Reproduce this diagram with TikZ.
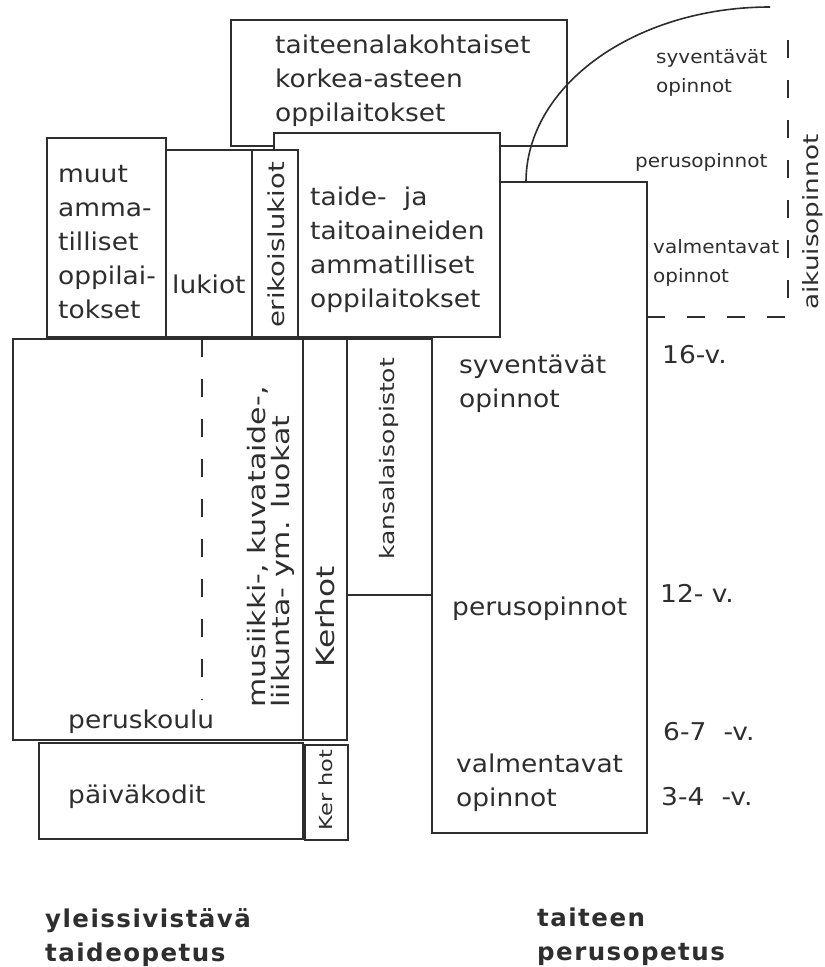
\documentclass[tikz,border=0pt]{standalone}
\usepackage{fontspec}
\newfontfamily\mainf{DejaVu Sans}[FakeStretch=1.08]
\newfontfamily\rotf{DejaVu Sans}[FakeStretch=1.25]
\newfontfamily\capf{DejaVu Sans}[LetterSpace=6]
\definecolor{ink}{gray}{0.18}
\begin{document}
\begin{tikzpicture}[x=1pt,y=-1pt,
  box/.style={draw=ink, line width=1.8pt, fill=white},
  heavybox/.style={box, line width=2.6pt},
  % multi-line labels are placed by the baseline of their last line
  lbl/.style={inner sep=0pt, anchor=base west, align=left, text=ink,
    font=\mainf\fontsize{24.5}{34}\selectfont},
  smalllbl/.style={lbl, font=\mainf\fontsize{18.5}{29}\selectfont},
  vert/.style={inner sep=0pt, rotate=90, text=ink},
  dashline/.style={draw=ink, line width=1.8pt, dash pattern=on 18pt off 22pt},
  caption/.style={lbl, font=\capf\bfseries\fontsize{24.5}{34}\selectfont}]

% page
\fill[white] (0,0) rectangle (825,967);
\useasboundingbox (0,0) rectangle (825,967);

% taiteen perusopetus column (behind the vocational box)
\draw[box] (432,182) rectangle (647,833);
% higher education box
\draw[box] (231,20) rectangle (567,146);
% adult studies arc
\coordinate (arcstart) at (526,182);
\draw[ink, line width=1.6pt] (arcstart) arc[start angle=180, end angle=270, x radius=244, y radius=175];

% upper secondary row
\draw[box] (274,133) rectangle (500,337);
\draw[heavybox] (47,138) rectangle (166,337);
\draw[box] (166,150) rectangle (252,337);
\draw[box] (252,150) rectangle (298,337);

% basic education row
\draw[box] (13,339) rectangle (303,740);
\draw[dashline] (202,339) -- (202,700);
\draw[box] (303,339) rectangle (347,740);
\draw[box] (347,339) rectangle (432,595);

% day care row
\draw[box] (39,743) rectangle (303,839);
\draw[box] (305,745) rectangle (348,840);

% adult studies bracket
\draw[dashline] (647,317) -- (788,317) -- (788,25);

% labels
\node[lbl] (korkea) at (275,121) {taiteenalakohtaiset\\korkea-asteen\\oppilaitokset};
\node[lbl] (muut) at (58,318) {muut\\amma-\\tilliset\\oppilai-\\tokset};
\node[lbl] (lukiot) at (172,293) {lukiot};
\node[vert, font=\rotf\fontsize{22}{24}\selectfont] (erikois) at (276,245) {erikoislukiot};
\node[lbl] (taide) at (310,307) {taide-\hspace{0.7em}ja\\taitoaineiden\\ammatilliset\\oppilaitokset};

\node[smalllbl] (syvA) at (656,92) {syventävät\\opinnot};
\node[smalllbl] (perusA) at (635,167) {perusopinnot};
\node[smalllbl] (valmA) at (653,282) {valmentavat\\opinnot};
\node[vert, font=\rotf\fontsize{21}{24}\selectfont] (aikuis) at (813,222) {aikuisopinnot};

\node[lbl] (syv) at (459,407) {syventävät\\opinnot};
\node[lbl] (perus) at (452,615) {perusopinnot};
\node[lbl] (valm) at (456,806) {valmentavat\\opinnot};

\node[lbl] (age16) at (662,363) {16-v.};
\node[lbl] (age12) at (660,602) {12- v.};
\node[lbl] (age6) at (663,740) {6-7\hspace{0.7em}-v.};
\node[lbl] (age3) at (661,805) {3-4\hspace{0.7em}-v.};

\node[vert, anchor=base west, align=left, font=\rotf\fontsize{24}{24}\selectfont] (luokat) at (289,708)
  {musiikki-, kuvataide-,\\liikunta- ym. luokat};
\node[vert, font=\rotf\fontsize{25}{24}\selectfont] (kerhoA) at (325,617) {Kerhot};
\node[vert, font=\rotf\fontsize{20}{24}\selectfont] (kansalais) at (389,459) {kansalaisopistot};
\node[vert, font=\rotf\fontsize{18}{24}\selectfont] (kerhoB) at (326,790) {Ker hot};

\node[lbl] (perusk) at (68,728) {peruskoulu};
\node[lbl] (paivak) at (68,803) {päiväkodit};

\node[caption] (yleis) at (45,961) {yleissivistävä\\taideopetus};
\node[caption] (tpo) at (537,960) {taiteen\\perusopetus};
\end{tikzpicture}
\end{document}
